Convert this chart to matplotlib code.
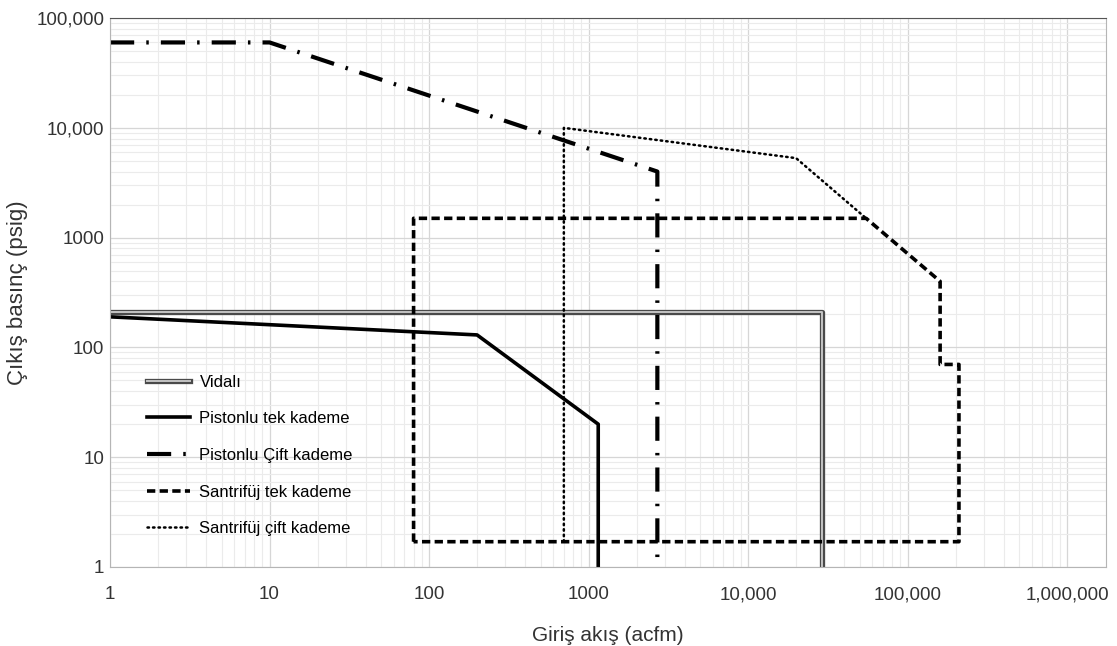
import matplotlib
matplotlib.use("Agg")
import matplotlib.pyplot as plt
import matplotlib.patheffects as pe
from matplotlib.ticker import FixedLocator, FixedFormatter, LogLocator, NullFormatter

plt.rcParams['font.family'] = ['Liberation Sans', 'DejaVu Sans']

# data (acfm, psig)
vidali_x = [1, 29000, 29000]
vidali_y = [210, 210, 1]

pist_tek_x = [1, 200, 1150, 1150]
pist_tek_y = [190, 130, 20, 1]

pist_cift_x = [1, 10, 2700, 2700]
pist_cift_y = [60000, 60000, 4000, 1]

santr_tek_x = [80, 80, 55000, 160000, 160000, 210000, 210000, 80]
santr_tek_y = [1.7, 1500, 1500, 400, 70, 70, 1.7, 1.7]

santr_cift_x = [700, 700, 20000, 55000]
santr_cift_y = [1.7, 10000, 5300, 1500]

x_ticks = [1, 10, 100, 1000, 10000, 100000, 1000000]
x_labels = ['1', '10', '100', '1000', '10,000', '100,000', '1,000,000']
y_ticks = [1, 10, 100, 1000, 10000, 100000]
y_labels = ['1', '10', '100', '1000', '10,000', '100,000']

fig = plt.figure(figsize=(11.17, 6.46), dpi=100)
ax = fig.add_axes([0.0985, 0.1223, 0.8915, 0.8497])
ax.set_xscale('log')
ax.set_yscale('log')

ax.plot(vidali_x, vidali_y, color='#c4c4c4', lw=1.4, label='Vidalı',
        path_effects=[pe.Stroke(linewidth=3.8, foreground='#4a4a4a'), pe.Normal()])
ax.plot(pist_tek_x, pist_tek_y, color='black', lw=2.6, label='Pistonlu tek kademe')
ax.plot(pist_cift_x, pist_cift_y, color='black', lw=3, dashes=(5.8, 2.9, 0.6, 2.9),
        label='Pistonlu Çift kademe')
ax.plot(santr_tek_x, santr_tek_y, color='black', lw=2.6, dashes=(2.3, 1.2),
        label='Santrifüj tek kademe')
ax.plot(santr_cift_x, santr_cift_y, color='black', lw=1.8, dashes=(0.6, 1.6),
        dash_capstyle='round', label='Santrifüj çift kademe')

ax.set_xlim(1, 1.75e6)
ax.set_ylim(1, 100000)

ax.xaxis.set_major_locator(FixedLocator(x_ticks))
ax.xaxis.set_major_formatter(FixedFormatter(x_labels))
ax.yaxis.set_major_locator(FixedLocator(y_ticks))
ax.yaxis.set_major_formatter(FixedFormatter(y_labels))
ax.xaxis.set_minor_locator(LogLocator(base=10, subs=range(2, 10), numticks=20))
ax.yaxis.set_minor_locator(LogLocator(base=10, subs=range(2, 10), numticks=20))
ax.xaxis.set_minor_formatter(NullFormatter())
ax.yaxis.set_minor_formatter(NullFormatter())

ax.grid(which='major', color='#d6d6d6', lw=0.9)
ax.grid(which='minor', color='#ebebeb', lw=0.8)
ax.set_axisbelow(True)
ax.tick_params(which='both', length=0, labelsize=13.5, labelcolor='#333333')
ax.tick_params(axis='x', pad=14)
ax.tick_params(axis='y', pad=4)

for side in ['left', 'bottom', 'right']:
    ax.spines[side].set_color('#b5b5b5')
ax.spines['top'].set_color('#555555')

ax.set_xlabel('Giriş akış (acfm)', fontsize=15, color='#333333', labelpad=16)
ax.set_ylabel('Çıkış basınç (psig)', fontsize=16, color='#333333', labelpad=6)

ax.legend(loc='upper left', bbox_to_anchor=(0.022, 0.378), frameon=False,
          fontsize=12, labelspacing=1.3, handlelength=2.6, handletextpad=0.55)

fig.savefig('out.png', dpi=100)
